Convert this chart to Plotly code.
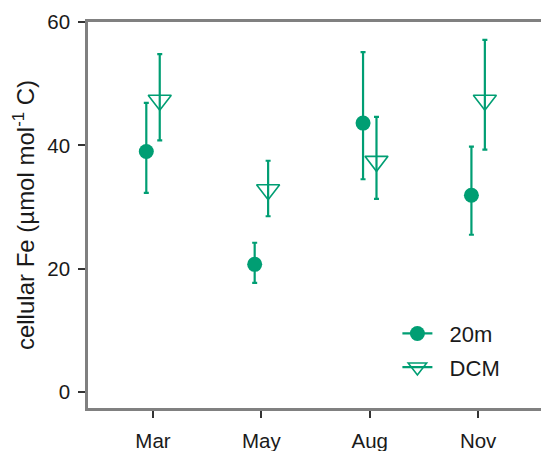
import plotly.graph_objects as go

months = ["Mar", "May", "Aug", "Nov"]
fe_20m = [39.0, 20.7, 43.6, 31.9]
fe_20m_hi = [46.9, 24.2, 55.1, 39.8]
fe_20m_lo = [32.3, 17.7, 34.5, 25.5]
fe_dcm = [47.3, 32.8, 37.4, 47.3]
fe_dcm_hi = [54.8, 37.5, 44.6, 57.1]
fe_dcm_lo = [40.8, 28.5, 31.3, 39.3]
y_ticks = [0, 20, 40, 60]
series_names = ["20m", "DCM"]

GREEN = "#009E73"
dodge = 0.062
xpos = list(range(len(months)))

fig = go.Figure()

fig.add_trace(go.Scatter(
    x=[p - dodge for p in xpos], y=fe_20m, mode="markers", showlegend=False,
    marker=dict(symbol="circle", size=15, color=GREEN),
    error_y=dict(type="data", symmetric=False,
                 array=[h - v for h, v in zip(fe_20m_hi, fe_20m)],
                 arrayminus=[v - l for v, l in zip(fe_20m, fe_20m_lo)],
                 color=GREEN, thickness=2.2, width=2.5),
))
fig.add_trace(go.Scatter(
    x=[p + dodge for p in xpos], y=fe_dcm, mode="markers", showlegend=False,
    marker=dict(symbol="triangle-down-open", size=20, color=GREEN, line=dict(width=1.6, color=GREEN)),
    error_y=dict(type="data", symmetric=False,
                 array=[h - v for h, v in zip(fe_dcm_hi, fe_dcm)],
                 arrayminus=[v - l for v, l in zip(fe_dcm, fe_dcm_lo)],
                 color=GREEN, thickness=2.2, width=2.5),
))
# legend entries
fig.add_trace(go.Scatter(
    x=[None], y=[None], mode="lines+markers", name="\u00a0\u00a0" + series_names[0],
    legendgroup="a",
    line=dict(color=GREEN, width=2.2),
    marker=dict(symbol="circle", size=15, color=GREEN),
))
fig.add_trace(go.Scatter(
    x=[None], y=[None], mode="lines+markers", name="\u00a0\u00a0" + series_names[1],
    legendgroup="b",
    line=dict(color=GREEN, width=2.2),
    marker=dict(symbol="triangle-down-open", size=20, color=GREEN, line=dict(width=1.6, color=GREEN)),
))

fig.update_layout(
    width=541, height=451,
    margin=dict(l=88, r=0, t=22, b=43, autoexpand=False),
    paper_bgcolor="white", plot_bgcolor="white",
    font=dict(family="Liberation Sans, Arial, sans-serif", color="#1a1a1a", size=20),
    legend=dict(x=0.683, y=0.247, xanchor="left", yanchor="top",
                font=dict(size=22, color="#1a1a1a"), bgcolor="rgba(0,0,0,0)",
                itemwidth=30, tracegroupgap=2),
    xaxis=dict(range=[-0.6, 3.58], tickmode="array", tickvals=xpos, ticktext=months,
               showline=True, linecolor="#808080", linewidth=2.5, mirror=True,
               ticks="outside", ticklen=7, tickwidth=2, tickcolor="#333333",
               showgrid=False, zeroline=False, ticklabelstandoff=6, automargin=False,
               tickfont=dict(size=20.5)),
    yaxis=dict(range=[-2.6, 60], tickmode="array", tickvals=y_ticks,
               showline=True, linecolor="#808080", linewidth=2.5,
               ticks="outside", ticklen=7, tickwidth=2, tickcolor="#333333",
               showgrid=False, zeroline=False, automargin=False, ticklabelstandoff=4,
               tickfont=dict(size=20.5),
               title=dict(text="cellular Fe (µmol mol<sup>-1</sup> C)", font=dict(size=24), standoff=6)),
)

fig.write_html("out.html", config={"displayModeBar": False},
               post_script="document.body.style.margin='0';document.body.style.padding='0';")
